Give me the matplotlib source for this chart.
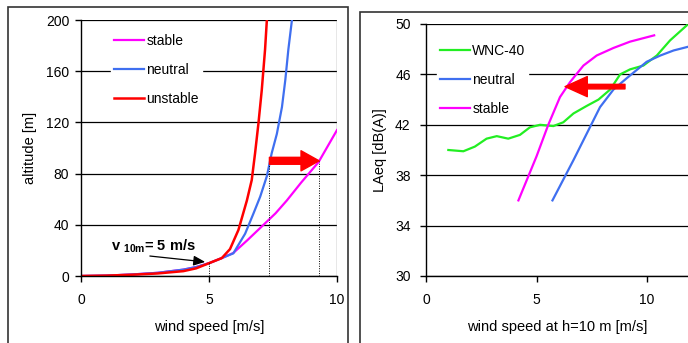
import matplotlib
matplotlib.use("Agg")
import matplotlib.pyplot as plt
from matplotlib.patches import Rectangle

plt.rcParams["font.family"] = ["Liberation Sans", "DejaVu Sans"]
plt.rcParams["mathtext.fontset"] = "custom"
plt.rcParams["mathtext.bf"] = "Liberation Sans:bold"
plt.rcParams["mathtext.rm"] = "Liberation Sans"

# wind profiles: wind speed [m/s] vs altitude [m]
stable_v = [0, 1, 2, 3, 4, 4.5, 5, 5.5, 5.95, 6.5, 7.13, 7.6, 8.04, 8.6, 9.28, 10]
stable_h = [0, 0.3, 1.2, 2.5, 5, 7, 10, 14, 18, 28, 40, 49, 59, 73, 89, 114]
neutral_v = [0, 1, 2, 3, 4, 4.5, 5, 5.5, 5.95, 6.41, 6.74, 7.0, 7.26, 7.45, 7.65,
             7.85, 7.98, 8.1, 8.24]
neutral_h = [0, 0.3, 1.2, 2.5, 5, 7, 10, 14, 17.7, 33, 49, 62, 78, 96, 111,
             132, 153, 177, 200]
unstable_v = [0, 1, 2, 3, 4, 4.5, 5, 5.5, 5.82, 6.15, 6.48, 6.67, 6.8, 6.93, 7.06,
              7.19, 7.26]
unstable_h = [0, 0.3, 1, 2, 3.8, 6, 10, 14, 21, 36, 59, 75, 96, 119, 145,
              177, 200]

# reference speed at 10 m and hub-height speeds at 90 m
v10 = 5.0
hub_h = 90
hub_neutral = 7.36
hub_stable = 9.3

# turbine noise vs wind speed at 10 m
wnc_v = [1.01, 1.69, 2.21, 2.74, 3.2, 3.72, 4.25, 4.7, 5.16, 5.76, 6.21, 6.67,
         7.27, 7.8, 8.33, 8.78, 9.23, 9.83, 10.44, 11.04, 11.8]
wnc_l = [40.0, 39.9, 40.27, 40.9, 41.1, 40.9, 41.2, 41.8, 42.0, 41.9, 42.2, 42.9,
         43.5, 44.0, 44.8, 46.0, 46.4, 46.7, 47.5, 48.7, 49.9]
noise_neutral_v = [5.72, 6.67, 7.27, 7.87, 8.48, 9.08, 9.98, 10.6, 11.2, 11.87]
noise_neutral_l = [36.0, 39.2, 41.3, 43.4, 44.8, 45.7, 47.0, 47.5, 47.9, 48.2]
noise_stable_v = [4.18, 5.0, 5.53, 6.06, 6.52, 7.12, 7.72, 8.48, 9.23, 10.32]
noise_stable_l = [36.0, 39.5, 42.0, 44.2, 45.4, 46.7, 47.5, 48.1, 48.6, 49.1]
shift_level = 45.03
shift_from = 9.0
shift_to = 6.29

MAGENTA = "#ff00ff"
BLUE = "#3f6ff0"
RED = "#ff0000"
GREEN = "#22ee22"

fig = plt.figure(figsize=(6.88, 3.43), dpi=100)
W, H = 688, 343

# panel frames
fig.patches.append(Rectangle((8 / W, -0.1), 340 / W, 1.1 - 7 / H, transform=fig.transFigure,
                             fill=False, edgecolor="#333333", linewidth=1.2))
fig.patches.append(Rectangle((360 / W, -0.1), 0.5, 1.1 - 12 / H, transform=fig.transFigure,
                             fill=False, edgecolor="#333333", linewidth=1.2))


def style_axes(ax):
    for side in ("top", "right"):
        ax.spines[side].set_visible(False)
    ax.spines["left"].set_linewidth(1.0)
    ax.spines["bottom"].set_linewidth(1.0)
    ax.tick_params(direction="out", length=4.5, width=1.0, labelsize=10)
    ax.yaxis.grid(True, color="black", linewidth=0.9)
    ax.set_axisbelow(True)


# left: wind profiles
ax1 = fig.add_axes([81 / W, 1 - 276 / H, 256 / W, 256 / H])
style_axes(ax1)
ax1.axvline(10, color="#888888", linewidth=1.0)
ax1.plot(stable_v, stable_h, color=MAGENTA, lw=1.6, label="stable")
ax1.plot(neutral_v, neutral_h, color=BLUE, lw=1.6, label="neutral")
ax1.plot(unstable_v, unstable_h, color=RED, lw=1.8, label="unstable")
ax1.set_xlim(0, 10)
ax1.set_ylim(0, 200)
ax1.set_xticks([0, 5, 10])
ax1.set_yticks([0, 40, 80, 120, 160, 200])
ax1.tick_params(axis="x", pad=8)
ax1.tick_params(axis="y", pad=4)
ax1.set_xlabel("wind speed [m/s]", fontsize=10.5, labelpad=9)
ax1.set_ylabel("altitude [m]", fontsize=10.5, labelpad=6)

for v, top in ((v10, 10), (hub_neutral, hub_h), (hub_stable, hub_h)):
    ax1.plot([v, v], [0, top], color="black", lw=0.7, ls=(0, (1, 1.5)))

ax1.annotate("", xy=(hub_stable, hub_h), xytext=(hub_neutral, hub_h),
             arrowprops=dict(arrowstyle="simple,head_length=1.3,head_width=1.45,tail_width=0.5",
                             color=RED, mutation_scale=10, shrinkA=0, shrinkB=0))
ax1.annotate("", xy=(4.85, 11), xytext=(2.69, 15.6),
             arrowprops=dict(arrowstyle="-|>,head_length=0.7,head_width=0.3",
                             color="black", lw=0.9, mutation_scale=10, shrinkA=0, shrinkB=0))
ax1.text(1.19, 23, r"v $_{\mathbf{10m}}$= 5 m/s", fontsize=10.5, fontweight="bold",
         va="center", ha="left")

ax1.legend(loc="upper left", bbox_to_anchor=(0.09, 0.985), fontsize=10,
           frameon=True, fancybox=False, framealpha=1, edgecolor="white",
           handlelength=2.2, handletextpad=0.15, labelspacing=1.1,
           borderpad=0.2)

# right: noise levels
ax2 = fig.add_axes([426 / W, 1 - 276 / H, 262 / W, 252 / H])
style_axes(ax2)
ax2.plot(wnc_v, wnc_l, color=GREEN, lw=1.6, label="WNC-40")
ax2.plot(noise_neutral_v, noise_neutral_l, color=BLUE, lw=1.6, label="neutral")
ax2.plot(noise_stable_v, noise_stable_l, color=MAGENTA, lw=1.6, label="stable")
ax2.set_xlim(0, 11.85)
ax2.set_ylim(30, 50)
ax2.set_xticks([0, 5, 10])
ax2.set_yticks([30, 34, 38, 42, 46, 50])
ax2.tick_params(axis="x", pad=8)
ax2.tick_params(axis="y", pad=6.5)
ax2.set_xlabel("wind speed at h=10 m [m/s]", fontsize=10.5, labelpad=9)
ax2.set_ylabel("LAeq [dB(A)]", fontsize=10.5, labelpad=6)

ax2.annotate("", xy=(shift_to, shift_level), xytext=(shift_from, shift_level),
             arrowprops=dict(arrowstyle="simple,head_length=1.6,head_width=1.45,tail_width=0.33",
                             color=RED, mutation_scale=10, shrinkA=0, shrinkB=0))

ax2.legend(loc="upper left", bbox_to_anchor=(0.015, 0.96), fontsize=10,
           frameon=True, fancybox=False, framealpha=1, edgecolor="white",
           handlelength=2.2, handletextpad=0.15, labelspacing=1.1,
           borderpad=0.2)

fig.savefig("out.png", dpi=100)
